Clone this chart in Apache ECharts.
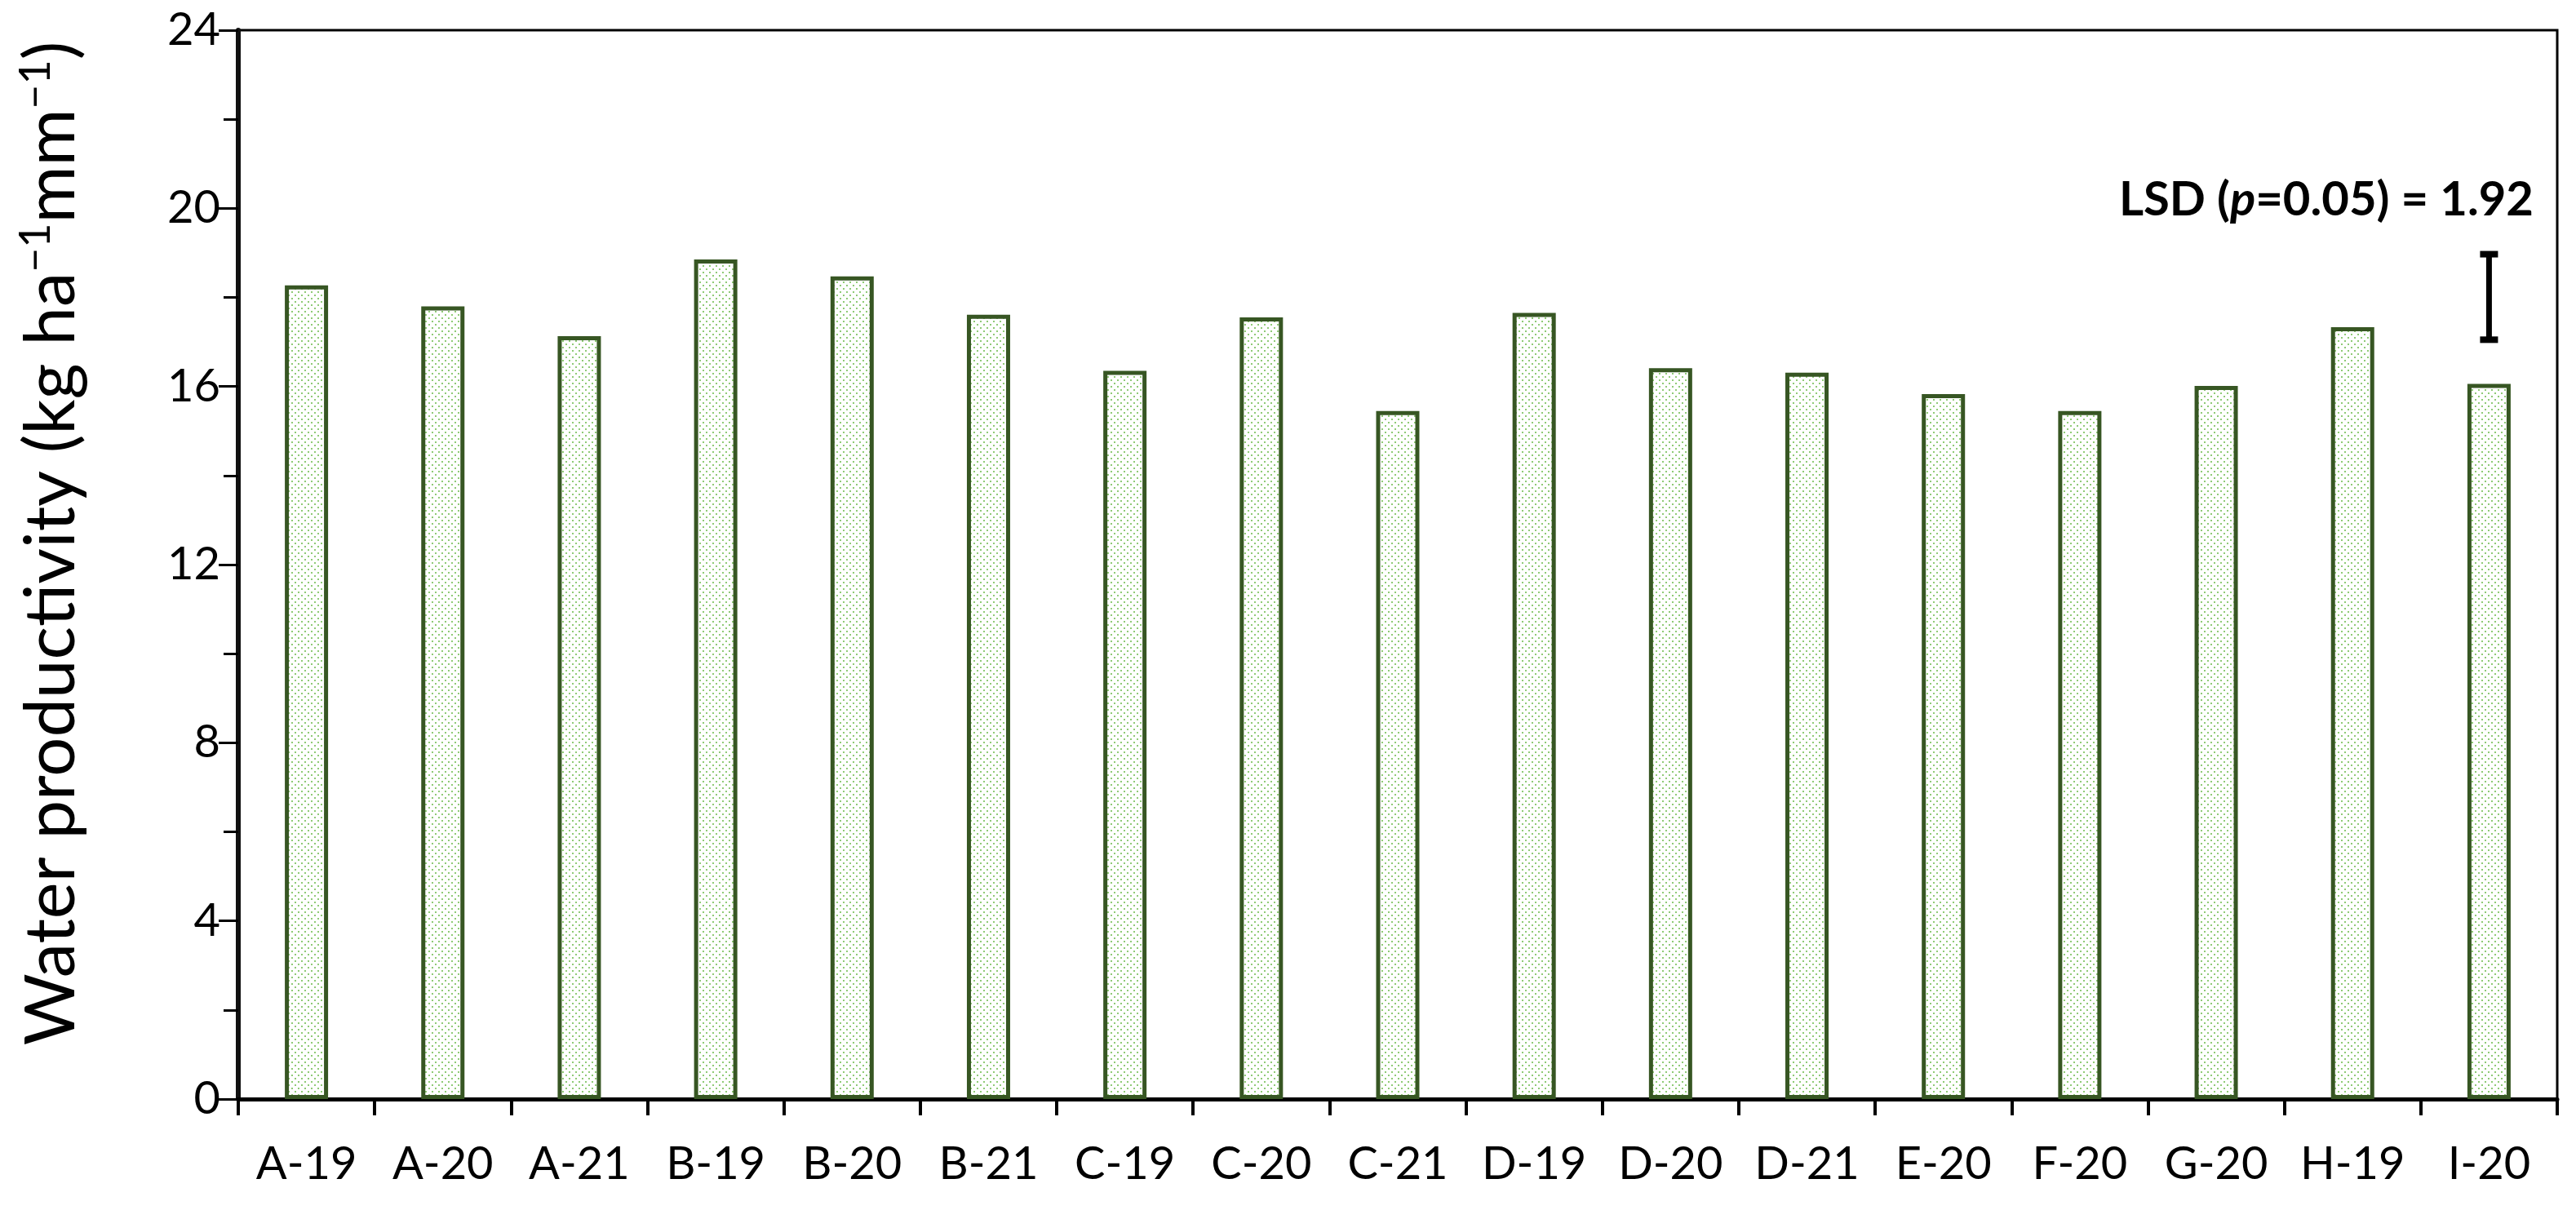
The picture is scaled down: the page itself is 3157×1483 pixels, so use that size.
<!DOCTYPE html>
<html>
<head>
<meta charset="utf-8">
<title>Water productivity</title>
<script src="https://cdn.jsdelivr.net/npm/echarts@6/dist/echarts.min.js"></script>
<style>
  html, body { margin: 0; padding: 0; background: #fff; }
  #main { width: 3157px; height: 1483px; }
</style>
</head>
<body>
<div id="main"></div>
<script>
// treatments on the x axis
const categories = ['A-19', 'A-20', 'A-21', 'B-19', 'B-20', 'B-21', 'C-19', 'C-20', 'C-21',
  'D-19', 'D-20', 'D-21', 'E-20', 'F-20', 'G-20', 'H-19', 'I-20']
// water productivity, kg ha-1 mm-1
const waterProductivity = [18.27, 17.80, 17.13, 18.85, 18.47, 17.61, 16.35, 17.55, 15.45,
  17.65, 16.41, 16.31, 15.83, 15.45, 16.01, 17.33, 16.06]
// LSD bar drawn above the last treatment
const lsdCategory = ['I-20']
const lsdRange = [17.05, 18.97]
const yTicks = [0, 4, 8, 12, 16, 20, 24]

// dotted fill like the excel pattern
function dotPattern() {
  const c = document.createElement('canvas')
  c.width = 8
  c.height = 8
  const ctx = c.getContext('2d')
  ctx.fillStyle = '#ffffff'
  ctx.fillRect(0, 0, 8, 8)
  ctx.fillStyle = '#8fca76'
  ctx.fillRect(1, 1, 2, 2)
  ctx.fillRect(5, 5, 2, 2)
  return c
}

const chart = echarts.init(document.getElementById('main'))
const font = 'Lato, "Open Sans", sans-serif'

const option = {
  backgroundColor: '#fff',
  animation: false,
  grid: {
    left: 292,
    right: 23,
    top: 37,
    bottom: 136,
    show: true,
    borderColor: '#000',
    borderWidth: 3
  },
  xAxis: {
    type: 'category',
    data: categories,
    axisLine: { lineStyle: { color: '#000', width: 5 } },
    axisTick: { show: true, length: 20, lineStyle: { color: '#000', width: 4 } },
    axisLabel: { color: '#000', fontSize: 56, fontFamily: font, margin: 52, interval: 0 }
  },
  yAxis: {
    type: 'value',
    min: yTicks[0],
    max: yTicks[yTicks.length - 1],
    interval: 4,
    splitLine: { show: false },
    axisLine: { show: true, lineStyle: { color: '#111', width: 6 } },
    axisTick: { show: true, length: 24, lineStyle: { color: '#000', width: 3 } },
    minorTick: { show: true, splitNumber: 2, length: 18, lineStyle: { color: '#000', width: 3 } },
    axisLabel: { color: '#000', fontSize: 56, fontFamily: font, margin: 22 },
    name: '{t|Water productivity (kg ha}{s|−1}{t|mm}{s|−1}{t|)}',
    nameLocation: 'middle',
    nameGap: 182,
    nameTextStyle: {
      padding: [0, 0, 0, 52],
      rich: {
        t: { fontSize: 85, fontFamily: font, color: '#000', fontWeight: 400 },
        s: { fontSize: 52, fontFamily: font, color: '#000', fontWeight: 400, padding: [0, 0, 40, 0] }
      }
    }
  },
  series: [
    {
      type: 'bar',
      data: waterProductivity,
      barWidth: 53,
      itemStyle: {
        color: { image: dotPattern(), repeat: 'repeat' },
        borderColor: '#375623',
        borderWidth: 5
      }
    },
    {
      type: 'custom',
      data: [[lsdCategory[0], lsdRange[0], lsdRange[1]]],
      renderItem: function (params, api) {
        const low = api.coord([api.value(0), api.value(1)])
        const high = api.coord([api.value(0), api.value(2)])
        const capW = 22
        return {
          type: 'group',
          children: [
            { type: 'rect', shape: { x: low[0] - 3.5, y: high[1], width: 7, height: low[1] - high[1] }, style: { fill: '#000' } },
            { type: 'rect', shape: { x: high[0] - capW / 2, y: high[1] - 4, width: capW, height: 8 }, style: { fill: '#000' } },
            { type: 'rect', shape: { x: low[0] - capW / 2, y: low[1] - 4, width: capW, height: 8 }, style: { fill: '#000' } }
          ]
        }
      }
    }
  ],
  graphic: [
    {
      type: 'text',
      x: 3105,
      y: 245,
      style: {
        text: '{b|LSD (}{i|p}{b|=0.05) = 1.92}',
        align: 'right',
        verticalAlign: 'middle',
        rich: {
          b: { fontSize: 58, fontWeight: 'bold', fontFamily: font, fill: '#000' },
          i: { fontSize: 58, fontWeight: 'bold', fontStyle: 'italic', fontFamily: font, fill: '#000' }
        }
      }
    }
  ]
}

chart.setOption(option)
</script>
</body>
</html>
